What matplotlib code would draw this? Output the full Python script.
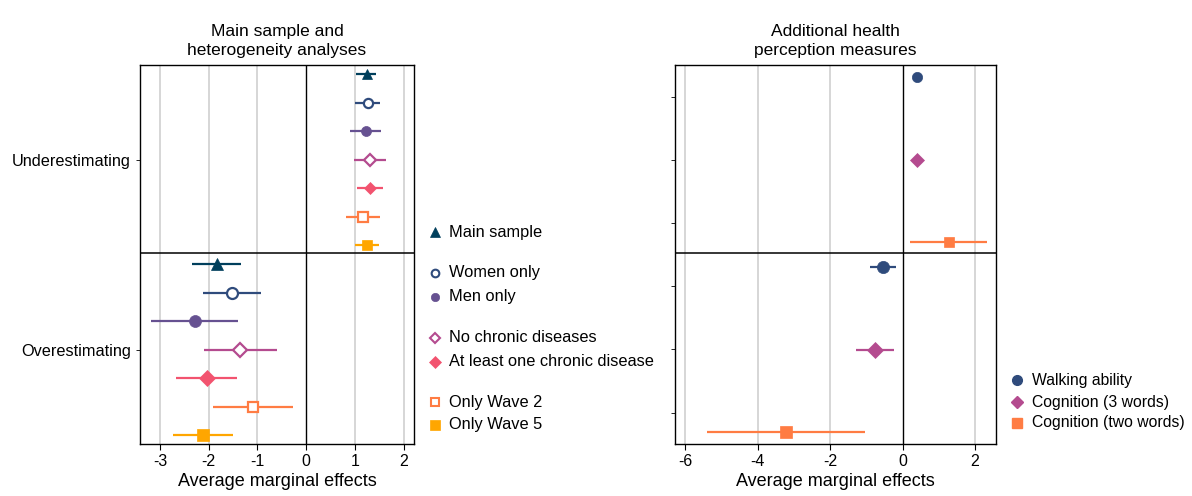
import matplotlib.pyplot as plt
from matplotlib.lines import Line2D

plt.rcParams['font.family'] = ['Liberation Sans', 'DejaVu Sans']

# left panel: main sample and heterogeneity analyses
samples = ['Main sample', 'Women only', 'Men only', 'No chronic diseases',
           'At least one chronic disease', 'Only Wave 2', 'Only Wave 5']
sample_colors = ['#003f5c', '#2f4b7c', '#665191', '#b44b8f', '#f2536f', '#ff7c43', '#ffa600']
sample_markers = ['^', 'o', 'o', 'D', 'D', 's', 's']
sample_hollow = [False, True, False, True, False, True, False]

under_est = [1.24, 1.26, 1.22, 1.30, 1.30, 1.17, 1.25]
under_lo = [1.03, 1.01, 0.89, 0.98, 1.04, 0.82, 1.00]
under_hi = [1.44, 1.52, 1.54, 1.63, 1.57, 1.51, 1.50]

over_est = [-1.84, -1.52, -2.28, -1.35, -2.04, -1.09, -2.12]
over_lo = [-2.34, -2.12, -3.18, -2.10, -2.68, -1.91, -2.74]
over_hi = [-1.33, -0.92, -1.39, -0.61, -1.43, -0.27, -1.50]

# right panel: additional health perception measures
measures = ['Walking ability', 'Cognition (3 words)', 'Cognition (two words)']
measure_colors = ['#2f4b7c', '#b44b8f', '#ff7c43']
measure_markers = ['o', 'D', 's']

m_under_est = [0.41, 0.41, 1.27]
m_under_lo = [0.37, 0.37, 0.21]
m_under_hi = [0.45, 0.45, 2.33]

m_over_est = [-0.54, -0.75, -3.21]
m_over_lo = [-0.91, -1.29, -5.39]
m_over_hi = [-0.17, -0.23, -1.03]

W, H = 1192, 496
fig = plt.figure(figsize=(W / 100, H / 100), dpi=100)


def fx(px):
    return px / W


def fy(py):
    return 1 - py / H


ax1 = fig.add_axes([fx(140), fy(444), fx(414) - fx(140), fy(65) - fy(444)])
ax2 = fig.add_axes([fx(675), fy(444), fx(996) - fx(675), fy(65) - fy(444)])

GRID = '#cccccc'


def style(ax, xlim, xticks, title):
    ax.set_xlim(*xlim)
    ax.set_ylim(379, 0)
    ax.set_xticks(xticks)
    ax.set_xticklabels([f'{t:g}' for t in xticks], fontsize=11.5)
    for t in xticks:
        if t != 0:
            ax.axvline(t, color=GRID, lw=1.1, zorder=0)
    ax.axvline(0, color='black', lw=1.0, zorder=1)
    ax.axhline(188, color='black', lw=1.1, zorder=1)
    for s in ax.spines.values():
        s.set_linewidth(1.0)
    ax.tick_params(axis='x', length=4, width=0.8, pad=3)
    ax.tick_params(axis='y', length=3, width=0.6)
    ax.set_xlabel('Average marginal effects', fontsize=13, labelpad=3)
    ax.set_title(title, fontsize=12.5, pad=7, linespacing=1.35)


def draw(ax, est, lo, hi, ys, colors, markers, hollow, ms, dfac=0.85):
    for i in range(len(est)):
        ax.plot([lo[i], hi[i]], [ys[i], ys[i]], color=colors[i], lw=1.6, zorder=3,
                solid_capstyle='butt')
        size = ms * (dfac if markers[i] == 'D' else 1.0)
        if hollow[i]:
            size *= 0.92
        ax.plot(est[i], ys[i], marker=markers[i], ms=size, color=colors[i],
                mfc='white' if hollow[i] else colors[i], mec=colors[i],
                mew=1.6 if hollow[i] else 0.5, zorder=4, linestyle='none')


# left panel
style(ax1, (-3.41, 2.21), [-3, -2, -1, 0, 1, 2],
      'Main sample and\nheterogeneity analyses')
ys_up = [9 + 28.5 * i for i in range(7)]
ys_dn = [199 + 28.5 * i for i in range(7)]
draw(ax1, under_est, under_lo, under_hi, ys_up, sample_colors, sample_markers, sample_hollow, 7.2)
draw(ax1, over_est, over_lo, over_hi, ys_dn, sample_colors, sample_markers, sample_hollow, 8.6, 0.9)
ax1.set_yticks([95, 285])
ax1.set_yticklabels(['Underestimating', 'Overestimating'], fontsize=11.7)

# right panel
style(ax2, (-6.28, 2.58), [-6, -4, -2, 0, 2],
      'Additional health\nperception measures')
r_up = [12 + 82.5 * i for i in range(3)]
r_dn = [202 + 82.5 * i for i in range(3)]
no_hollow = [False] * 3
draw(ax2, m_under_est, m_under_lo, m_under_hi, r_up, measure_colors, measure_markers, no_hollow, 7.4, 1.0)
draw(ax2, m_over_est, m_over_lo, m_over_hi, r_dn, measure_colors, measure_markers, no_hollow, 8.8, 0.92)
ax2.set_yticks([31.6 + 63.2 * k for k in range(6)])
ax2.set_yticklabels([])

# left legend
leg_y = [232, 273, 297, 338, 362, 402, 425]
for i, name in enumerate(samples):
    m = sample_markers[i]
    size = {'^': 7.0, 'o': 6.0, 'D': 6.0, 's': 6.5}[m]
    if sample_hollow[i]:
        size *= 0.92
    fig.add_artist(Line2D([fx(435)], [fy(leg_y[i])], transform=fig.transFigure,
                          marker=m, ms=size, color=sample_colors[i],
                          mfc='white' if sample_hollow[i] else sample_colors[i],
                          mec=sample_colors[i], mew=1.5 if sample_hollow[i] else 0.5,
                          linestyle='none'))
    fig.text(fx(449), fy(leg_y[i]), name, fontsize=11.8, va='center', ha='left')

# right legend
rleg_y = [380, 402, 423]
for i, name in enumerate(measures):
    m = measure_markers[i]
    size = {'o': 7.0, 'D': 6.4, 's': 6.5}[m]
    fig.add_artist(Line2D([fx(1017)], [fy(rleg_y[i])], transform=fig.transFigure,
                          marker=m, ms=size, color=measure_colors[i],
                          mec=measure_colors[i], linestyle='none'))
    fig.text(fx(1032), fy(rleg_y[i]), name, fontsize=11.3, va='center', ha='left')

fig.savefig('out.png', dpi=100, facecolor='white')
